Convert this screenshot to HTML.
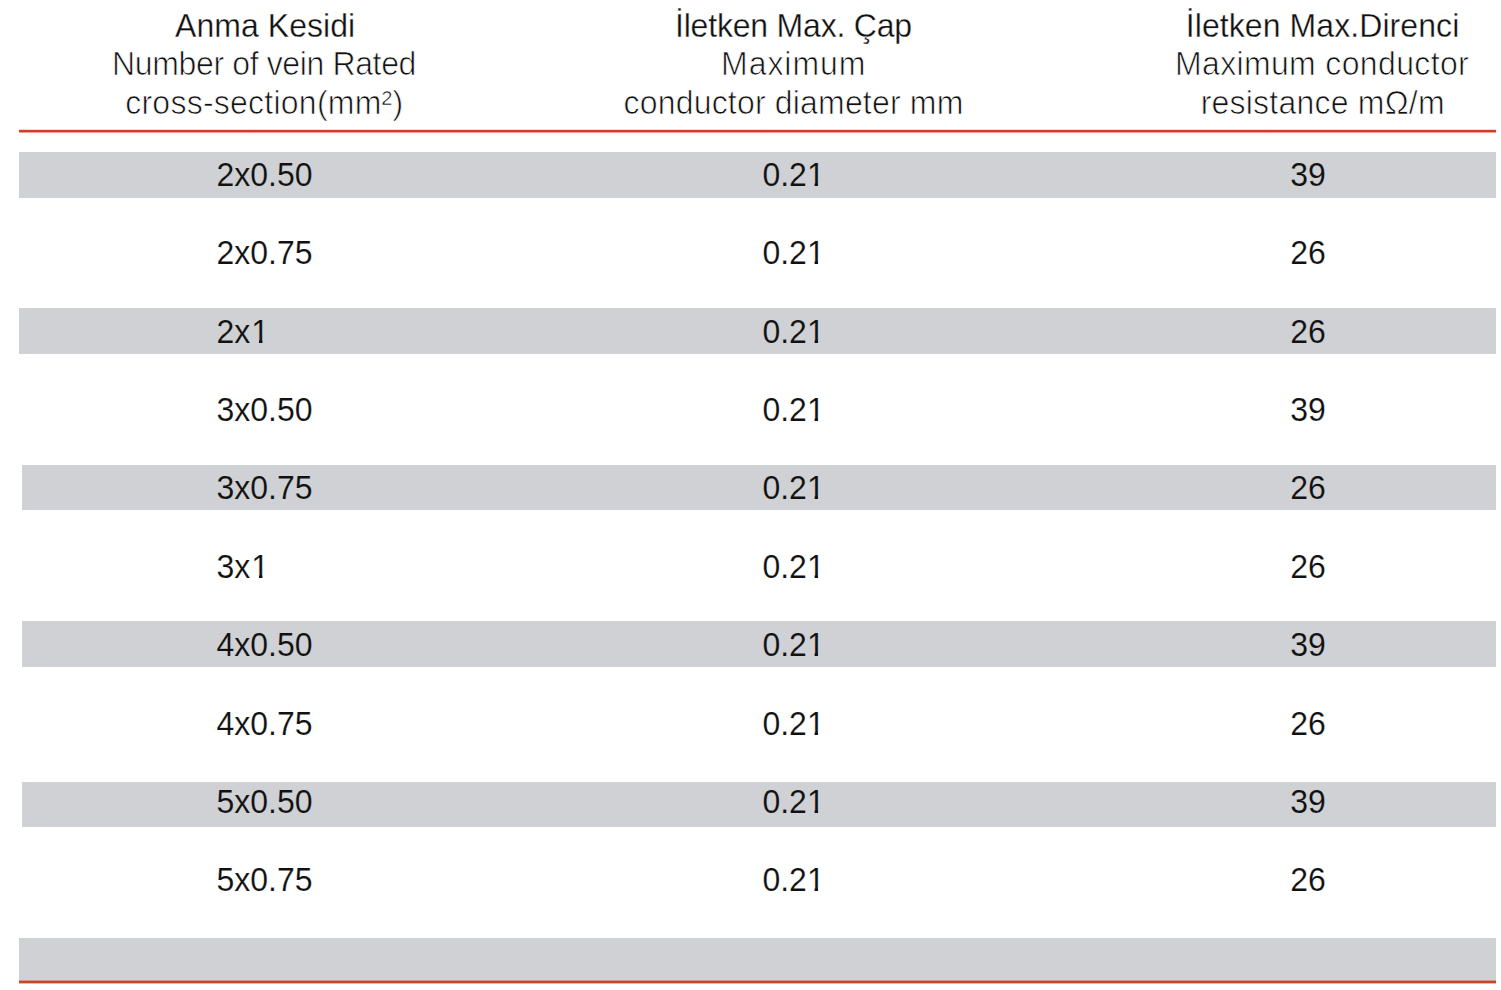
<!DOCTYPE html>
<html><head><meta charset="utf-8"><style>
html,body{margin:0;padding:0;background:#fff;width:1501px;height:990px;overflow:hidden;position:relative}
body{font-family:"Liberation Sans",sans-serif;color:#111}
.b{position:absolute;background:#cfd1d4}
.r{position:absolute;background:#d43e2a}
.t{position:absolute;white-space:nowrap;line-height:1;font-size:32px;transform:scaleY(1.035);transform-origin:0 27.09px}
.h{color:#111;-webkit-text-stroke:0.3px #fff}
.s{color:#111;-webkit-text-stroke:0.7px #fff}
.d{color:#111;-webkit-text-stroke:0.15px #fff}
.g{-webkit-text-stroke-color:#cfd1d4}
.c1 .one{margin-left:1px;margin-right:-1px}
.one{display:inline-block;clip-path:polygon(0 0,100% 0,100% 24px,11.2px 24px,11.2px 100%,7.7px 100%,7.7px 24px,0 24px)}
</style></head><body>

<div class="b" style="left:19px;top:152px;width:1477px;height:46px"></div>
<div class="b" style="left:19px;top:308px;width:1477px;height:46px"></div>
<div class="b" style="left:22px;top:465px;width:1474px;height:45px"></div>
<div class="b" style="left:22px;top:621px;width:1474px;height:46px"></div>
<div class="b" style="left:22px;top:782px;width:1474px;height:45px"></div>
<div class="b" style="left:19px;top:938px;width:1477px;height:42px"></div>
<div class="r" style="left:19px;top:129px;width:1477px;height:4px;background:linear-gradient(rgba(212,60,40,.2) 0 1px,#d43c28 1px 3px,rgba(212,60,40,.5) 3px 4px)"></div>
<div class="r" style="left:19px;top:980px;width:1477px;height:4px;background:linear-gradient(rgba(200,70,45,.6) 0 1px,#c4482f 1px 3px,rgba(200,70,45,.4) 3px 4px)"></div>
<div class="t h" style="left:175.10px;top:9.71px;letter-spacing:0.040px">Anma Kesidi</div>
<div class="t s" style="left:112.10px;top:47.71px;letter-spacing:-0.368px">Number of vein Rated</div>
<div class="t s" style="left:125.20px;top:86.91px;letter-spacing:0.247px">cross-section(mm²)</div>
<div class="t h" style="left:675.00px;top:9.71px;letter-spacing:-0.200px">İletken Max. Çap</div>
<div class="t s" style="left:721.10px;top:47.71px;letter-spacing:0.933px">Maximum</div>
<div class="t s" style="left:623.60px;top:86.91px;letter-spacing:0.180px">conductor diameter mm</div>
<div class="t h" style="left:1185.80px;top:9.71px;letter-spacing:0.078px">İletken Max.Direnci</div>
<div class="t s" style="left:1175.00px;top:47.71px;letter-spacing:0.350px">Maximum conductor</div>
<div class="t s" style="left:1200.70px;top:86.91px;letter-spacing:0.214px">resistance mΩ/m</div>
<div class="t d c1 g" style="left:216.5px;top:158.9px">2x0.50</div>
<div class="t d g" style="left:762.4px;top:158.9px">0.2<span class="one">1</span></div>
<div class="t d g" style="left:1008px;width:600px;text-align:center;top:158.9px">39</div>
<div class="t d c1" style="left:216.5px;top:236.9px">2x0.75</div>
<div class="t d" style="left:762.4px;top:236.9px">0.2<span class="one">1</span></div>
<div class="t d" style="left:1008px;width:600px;text-align:center;top:236.9px">26</div>
<div class="t d c1 g" style="left:216.5px;top:315.9px">2x<span class="one">1</span></div>
<div class="t d g" style="left:762.4px;top:315.9px">0.2<span class="one">1</span></div>
<div class="t d g" style="left:1008px;width:600px;text-align:center;top:315.9px">26</div>
<div class="t d c1" style="left:216.5px;top:393.9px">3x0.50</div>
<div class="t d" style="left:762.4px;top:393.9px">0.2<span class="one">1</span></div>
<div class="t d" style="left:1008px;width:600px;text-align:center;top:393.9px">39</div>
<div class="t d c1 g" style="left:216.5px;top:471.9px">3x0.75</div>
<div class="t d g" style="left:762.4px;top:471.9px">0.2<span class="one">1</span></div>
<div class="t d g" style="left:1008px;width:600px;text-align:center;top:471.9px">26</div>
<div class="t d c1" style="left:216.5px;top:550.9px">3x<span class="one">1</span></div>
<div class="t d" style="left:762.4px;top:550.9px">0.2<span class="one">1</span></div>
<div class="t d" style="left:1008px;width:600px;text-align:center;top:550.9px">26</div>
<div class="t d c1 g" style="left:216.5px;top:628.9px">4x0.50</div>
<div class="t d g" style="left:762.4px;top:628.9px">0.2<span class="one">1</span></div>
<div class="t d g" style="left:1008px;width:600px;text-align:center;top:628.9px">39</div>
<div class="t d c1" style="left:216.5px;top:707.9px">4x0.75</div>
<div class="t d" style="left:762.4px;top:707.9px">0.2<span class="one">1</span></div>
<div class="t d" style="left:1008px;width:600px;text-align:center;top:707.9px">26</div>
<div class="t d c1 g" style="left:216.5px;top:785.9px">5x0.50</div>
<div class="t d g" style="left:762.4px;top:785.9px">0.2<span class="one">1</span></div>
<div class="t d g" style="left:1008px;width:600px;text-align:center;top:785.9px">39</div>
<div class="t d c1" style="left:216.5px;top:863.9px">5x0.75</div>
<div class="t d" style="left:762.4px;top:863.9px">0.2<span class="one">1</span></div>
<div class="t d" style="left:1008px;width:600px;text-align:center;top:863.9px">26</div>
</body></html>
